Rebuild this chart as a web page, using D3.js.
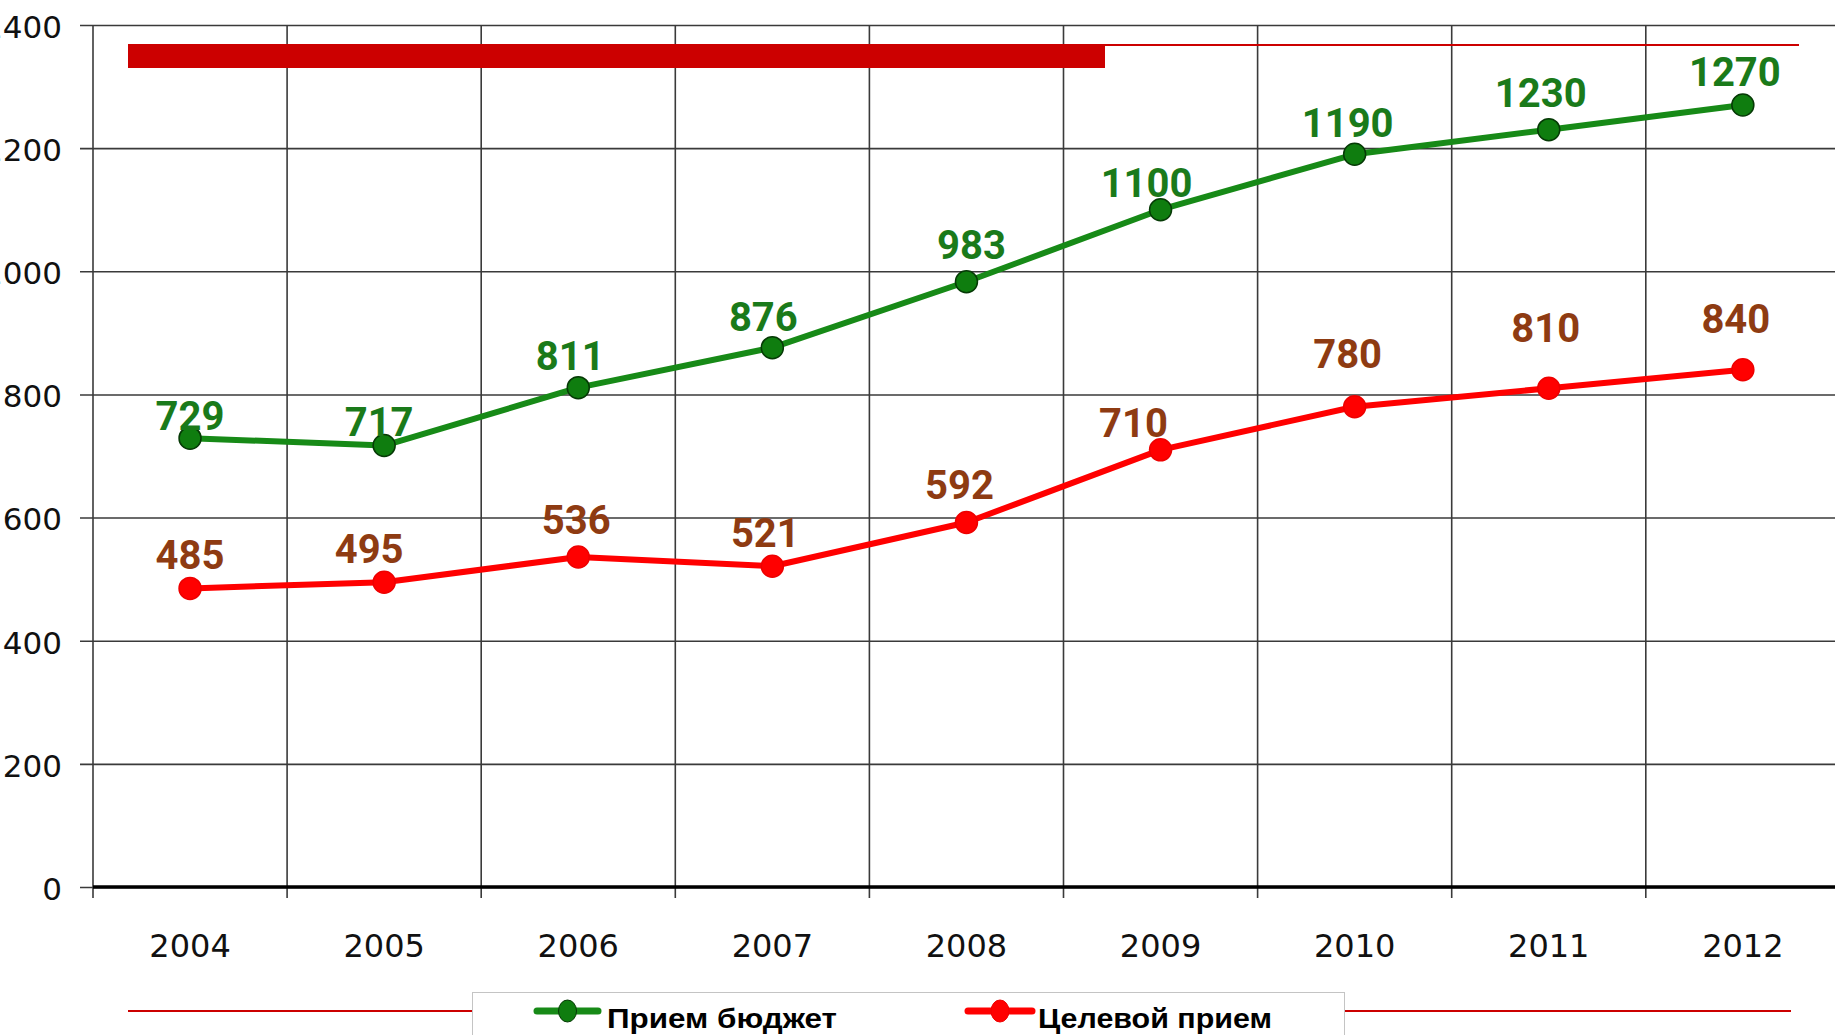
<!DOCTYPE html>
<html>
<head>
<meta charset="utf-8">
<script src="https://cdn.jsdelivr.net/npm/d3@7"></script>
<style>
  html, body { margin: 0; padding: 0; background: #fff; overflow: hidden; }
  svg { display: block; }
</style>
</head>
<body>
<svg id="chart" width="1835" height="1035"></svg>
<script>
// Intake by year
const years = ["2004", "2005", "2006", "2007", "2008", "2009", "2010", "2011", "2012"];
const budgetIntake = [729, 717, 811, 876, 983, 1100, 1190, 1230, 1270];
const targetIntake = [485, 495, 536, 521, 592, 710, 780, 810, 840];
const yTicks = [0, 200, 400, 600, 800, 1000, 1200, 1400];
const seriesNames = ["Прием бюджет", "Целевой прием"];

// Hand placement of the value labels, [dx, dy] from each marker
const budgetLabelShift = [[0, -8], [-5, -10], [-8, -18], [-9, -17], [5, -23], [-14, -13], [-7, -17], [-8, -23], [-8, -19]];
const targetLabelShift = [[0, -19], [-15, -19], [-2, -23], [-7, -19], [-7, -23], [-27, -13], [-7, -39], [-3, -46], [-7, -37]];

const W = 1835, H = 1035;
const plotLeft = 93, plotTop = 25, plotBottom = 887;
const step = 194.1;

const svg = d3.select("#chart");

const x = d3.scaleBand().domain(years).range([plotLeft, plotLeft + step * years.length]).padding(0);
const y = d3.scaleLinear().domain([0, 1400]).range([plotBottom, plotTop]);
const cx = d => x(d) + x.bandwidth() / 2;

const gridColor = "#3a3a3a";

// Horizontal gridlines and value axis
const yAxis = d3.axisLeft(y)
  .tickValues(yTicks)
  .tickSizeInner(-(W - plotLeft))
  .tickSizeOuter(0)
  .tickPadding(31)
  .tickFormat(d3.format("d"));
const gy = svg.append("g").attr("transform", `translate(${plotLeft},0)`).call(yAxis);
gy.select(".domain").remove();
gy.selectAll(".tick line")
  .attr("x1", -13)
  .attr("stroke", gridColor)
  .attr("stroke-width", 1.6);
gy.selectAll(".tick text")
  .attr("font-family", "'DejaVu Sans', sans-serif")
  .attr("font-size", 31)
  .attr("fill", "#111")
  .attr("dy", "0.4em");

// Vertical gridlines at category boundaries, with ticks below the axis
svg.append("g").selectAll("line")
  .data(years)
  .join("line")
  .attr("x1", d => x(d)).attr("x2", d => x(d))
  .attr("y1", plotTop).attr("y2", plotBottom + 11)
  .attr("stroke", gridColor)
  .attr("stroke-width", 1.6);

// Category axis labels
const xAxis = d3.axisBottom(x).tickSize(0).tickPadding(47);
const gx = svg.append("g").attr("transform", `translate(0,${plotBottom})`).call(xAxis);
gx.select(".domain").remove();
gx.selectAll(".tick text")
  .attr("font-family", "'DejaVu Sans', sans-serif")
  .attr("font-size", 32)
  .attr("fill", "#111");

// Baseline
svg.append("line")
  .attr("x1", plotLeft).attr("x2", W)
  .attr("y1", y(0)).attr("y2", y(0))
  .attr("stroke", "#000")
  .attr("stroke-width", 3.5);

// Red header band
svg.append("rect")
  .attr("x", 128).attr("y", 44)
  .attr("width", 1105 - 128).attr("height", 24)
  .attr("fill", "#cc0000");
svg.append("line")
  .attr("x1", 1105).attr("x2", 1799)
  .attr("y1", 45).attr("y2", 45)
  .attr("stroke", "#cc0000").attr("stroke-width", 2);

// Series
const series = [
  { name: seriesNames[0], values: budgetIntake, shift: budgetLabelShift,
    line: "#178a17", fill: "#0f7d0f", stroke: "#063a06", label: "#1a7a1a" },
  { name: seriesNames[1], values: targetIntake, shift: targetLabelShift,
    line: "#ff0000", fill: "#ff0000", stroke: "#ee0000", label: "#8e3b12" }
];

const lineGen = d3.line()
  .x((d, i) => cx(years[i]))
  .y(d => y(d));

series.forEach(s => {
  const g = svg.append("g");
  g.append("path")
    .datum(s.values)
    .attr("d", lineGen)
    .attr("fill", "none")
    .attr("stroke", s.line)
    .attr("stroke-width", 6)
    .attr("stroke-linejoin", "round");
  g.selectAll("circle")
    .data(s.values)
    .join("circle")
    .attr("cx", (d, i) => cx(years[i]))
    .attr("cy", d => y(d))
    .attr("r", 11)
    .attr("fill", s.fill)
    .attr("stroke", s.stroke)
    .attr("stroke-width", 1.5);
  g.selectAll("text")
    .data(s.values)
    .join("text")
    .attr("x", (d, i) => cx(years[i]) + s.shift[i][0])
    .attr("y", (d, i) => y(d) + s.shift[i][1])
    .attr("text-anchor", "middle")
    .attr("font-family", "Roboto, sans-serif")
    .attr("font-weight", "bold")
    .attr("font-size", 40)
    .attr("fill", s.label)
    .text(d => d);
});

// Legend
const legendY = 1011;
svg.append("line").attr("x1", 128).attr("x2", 472).attr("y1", legendY).attr("y2", legendY)
  .attr("stroke", "#cc0000").attr("stroke-width", 2);
svg.append("line").attr("x1", 1345).attr("x2", 1791).attr("y1", legendY).attr("y2", legendY)
  .attr("stroke", "#cc0000").attr("stroke-width", 2);
svg.append("rect")
  .attr("x", 472.5).attr("y", 992.5)
  .attr("width", 872).attr("height", 60)
  .attr("fill", "#fff")
  .attr("stroke", "#c4c4c4").attr("stroke-width", 1);

const legendItems = [
  { s: series[0], x1: 537, x2: 598, tx: 607, tw: 230 },
  { s: series[1], x1: 968, x2: 1032, tx: 1038, tw: 234 }
];
legendItems.forEach(it => {
  const g = svg.append("g");
  g.append("line")
    .attr("x1", it.x1).attr("x2", it.x2)
    .attr("y1", legendY).attr("y2", legendY)
    .attr("stroke", it.s.line).attr("stroke-width", 7)
    .attr("stroke-linecap", "round");
  g.append("ellipse")
    .attr("cx", (it.x1 + it.x2) / 2).attr("cy", legendY)
    .attr("rx", 9).attr("ry", 11)
    .attr("fill", it.s.fill)
    .attr("stroke", it.s.stroke).attr("stroke-width", 1);
  g.append("text")
    .attr("x", it.tx).attr("y", 1028)
    .attr("font-family", "'Liberation Sans', Arial, sans-serif")
    .attr("font-weight", "bold")
    .attr("font-size", 28)
    .attr("textLength", it.tw)
    .attr("lengthAdjust", "spacingAndGlyphs")
    .attr("fill", "#000")
    .text(it.s.name);
});
</script>
</body>
</html>
